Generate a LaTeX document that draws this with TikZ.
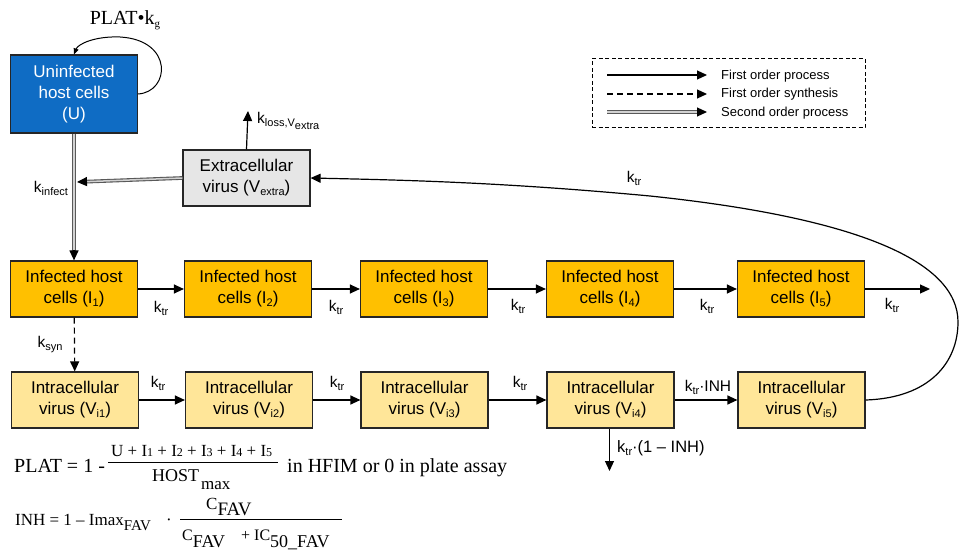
\documentclass[tikz,border=0pt]{standalone}
\usepackage{fontspec}
\setmainfont{Liberation Sans}
\newfontfamily\tms{Liberation Serif}
\usetikzlibrary{arrows.meta,calc}
\definecolor{uBlue}{HTML}{0F6CC4}
\definecolor{iOrange}{HTML}{FFC000}
\definecolor{vYellow}{HTML}{FFE699}
\definecolor{eGray}{HTML}{E6E6E6}
\newcommand\sbs[1]{\raisebox{-3pt}{\fontsize{11}{11}\selectfont #1}}
\newcommand\tsub[3]{\raisebox{-#1}{\fontsize{#2}{#2}\selectfont #3}}
\begin{document}
\begin{tikzpicture}[x=1pt,y=-1pt,
  box/.style={draw=black!85, line width=1.2pt, minimum width=127pt, minimum height=56pt,
    align=center, inner sep=1pt, font=\fontsize{17}{21}\selectfont},
  ubox/.style={box, fill=uBlue, text=white, minimum height=78pt},
  ibox/.style={box, fill=iOrange},
  vbox/.style={box, fill=vYellow},
  ebox/.style={box, fill=eGray},
  arr/.style={line width=1.2pt, -{Triangle[length=10pt,width=9pt]}},
  dasharr/.style={arr, dash pattern=on 6pt off 4pt},
  dblline/.style={draw=black!65, double=gray!35, double distance=1.5pt, line width=1.1pt,
    shorten >=8pt},
  lbl/.style={font=\fontsize{15.5}{15.5}\selectfont, inner sep=0pt},
  leg/.style={font=\fontsize{13}{13}\selectfont, inner sep=0pt, anchor=west},
  fm/.style={font=\tms\fontsize{20}{20}\selectfont, inner sep=0pt, anchor=base west},
  fmx/.style={inner sep=0pt, anchor=base west},
]
\useasboundingbox (0,0) rectangle (959,553);

% boxes
\node[ubox] (U) at (74,94) {Uninfected\\host cells\\(U)};
\node[ebox] (E) at (246.5,178) {Extracellular\\virus (V\sbs{extra})};
\node[ibox] (I1) at (74,289) {Infected host\\cells (I\sbs{1})};
\node[ibox] (I2) at (248,289) {Infected host\\cells (I\sbs{2})};
\node[ibox] (I3) at (424,289) {Infected host\\cells (I\sbs{3})};
\node[ibox] (I4) at (610,289) {Infected host\\cells (I\sbs{4})};
\node[ibox] (I5) at (801,289) {Infected host\\cells (I\sbs{5})};
\node[vbox] (V1) at (75,400) {Intracellular\\virus (V\sbs{i1})};
\node[vbox] (V2) at (249,400) {Intracellular\\virus (V\sbs{i2})};
\node[vbox] (V3) at (424.5,400) {Intracellular\\virus (V\sbs{i3})};
\node[vbox] (V4) at (610.5,400) {Intracellular\\virus (V\sbs{i4})};
\node[vbox] (V5) at (801.5,400) {Intracellular\\virus (V\sbs{i5})};

% self loop
\node[font=\tms\fontsize{20}{20}\selectfont, inner sep=0pt] (plk) at (125,20) {PLAT\textbullet k\sbs{g}};
\draw[line width=1pt, -{Triangle[length=6pt,width=5pt]}] (U.east) .. controls (170,92) and (174,40) .. (120,37) .. controls (95,36) and (78,44) .. (U.north);

% second order
\draw[dblline] (U) -- (I1);
\draw[arr] ($(I1.north)+(0,-10)$) -- (I1.north);
\coordinate (kin) at (77,182);
\draw[dblline] (E.west) -- (kin);
\draw[arr] ($(kin)+(10,-0.4)$) -- (kin);
\node[lbl] (lkin) at (51,188) {k\sbs{infect}};

% loss
\coordinate (kl) at (248,111);
\draw[arr] (E.north) -- (kl);
\node[lbl, anchor=west] (lkl) at (257,121) {k\sbs{loss,V\sbs{extra}}};

% infected row
\draw[arr] (I1) -- (I2);
\draw[arr] (I2) -- (I3);
\draw[arr] (I3) -- (I4);
\draw[arr] (I4) -- (I5);
\coordinate (Iout) at (930,289);
\draw[arr] (I5) -- (Iout);
\node[lbl] at (161,308) {k\sbs{tr}};
\node[lbl] at (336,307) {k\sbs{tr}};
\node[lbl] at (518,306) {k\sbs{tr}};
\node[lbl] at (707,306) {k\sbs{tr}};
\node[lbl] at (892,305) {k\sbs{tr}};

% synthesis
\draw[dasharr] (I1) -- (V1);
\node[lbl] at (50,345) {k\sbs{syn}};

% virus row
\draw[arr] (V1) -- (V2);
\draw[arr] (V2) -- (V3);
\draw[arr] (V3) -- (V4);
\draw[arr] (V4) -- (V5);
\node[lbl] at (158,383) {k\sbs{tr}};
\node[lbl] at (337,383) {k\sbs{tr}};
\node[lbl] at (520,383) {k\sbs{tr}};
\node[lbl] at (708,387) {k\sbs{tr}\textperiodcentered INH};
\coordinate (vout) at (609.5,471);
\draw[arr] (V4.south -| vout) -- (vout);
\node[lbl, anchor=west, font=\fontsize{16.5}{16.5}\selectfont] at (617,448) {k\sbs{tr}\textperiodcentered(1 – INH)};

% return curve
\draw[arr] (V5.east) .. controls (930,398) and (958,362) .. (958,322)
  .. controls (958,262) and (860,218) .. (650,196)
  .. controls (500,182) and (400,180) .. (E.east);
\node[lbl] at (634,178) {k\sbs{tr}};

% legend
\node[draw, line width=1pt, dash pattern=on 4pt off 2.5pt, minimum width=273pt, minimum height=69pt, inner sep=0pt] (lg) at (728.5,93.5) {};
\coordinate (l1a) at (607,75); \coordinate (l1b) at (707,75);
\coordinate (l2a) at (607,94); \coordinate (l2b) at (707,94);
\coordinate (l3a) at (607,112); \coordinate (l3b) at (707,112);
\draw[arr] (l1a) -- (l1b);
\draw[dasharr, dash pattern=on 6pt off 4pt] (l2a) -- (l2b);
\draw[dblline] (l3a) -- (l3b);
\draw[arr] ($(l3b)+(-10,0)$) -- (l3b);
\node[leg] at (721,76) {First order process};
\node[leg] at (721,94) {First order synthesis};
\node[leg] at (721,113) {Second order process};

% PLAT formula
\node[fm] (pl) at (14,472) {PLAT = 1 -};
\node[fmx, font=\tms\fontsize{17}{17}\selectfont] (num) at (111,456)
  {U + I{\fontsize{12}{12}\selectfont 1} + I{\fontsize{12}{12}\selectfont 2} + I{\fontsize{12}{12}\selectfont 3} + I{\fontsize{12}{12}\selectfont 4} + I{\fontsize{12}{12}\selectfont 5}};
\coordinate (b1a) at (108,462); \coordinate (b1b) at (278,462);
\draw[line width=1pt] (b1a) -- (b1b);
\node[fmx, font=\tms\fontsize{18}{18}\selectfont] (den) at (152,481)
  {HOST\hspace{2pt}\tsub{8pt}{17}{max}};
\node[fm] (hf) at (287,472) {in HFIM or 0 in plate assay};

% INH formula
\node[fmx, font=\tms\fontsize{17}{17}\selectfont] (inh) at (15,525)
  {INH = 1 – Imax\tsub{5pt}{15}{FAV}};
\node[fmx, font=\tms\fontsize{17}{17}\selectfont] (dot) at (166,525) {\textperiodcentered};
\node[fmx, font=\tms\fontsize{17}{17}\selectfont] (cn) at (206,509)
  {C\tsub{6pt}{19}{FAV}};
\coordinate (b2a) at (180,519); \coordinate (b2b) at (342,519);
\draw[line width=1pt] (b2a) -- (b2b);
\node[fmx, font=\tms\fontsize{16}{16}\selectfont] (cd) at (182,540)
  {C\tsub{7pt}{18}{FAV}\hspace{16pt}+ IC\tsub{7pt}{18}{50\_FAV}};
\end{tikzpicture}
\end{document}
